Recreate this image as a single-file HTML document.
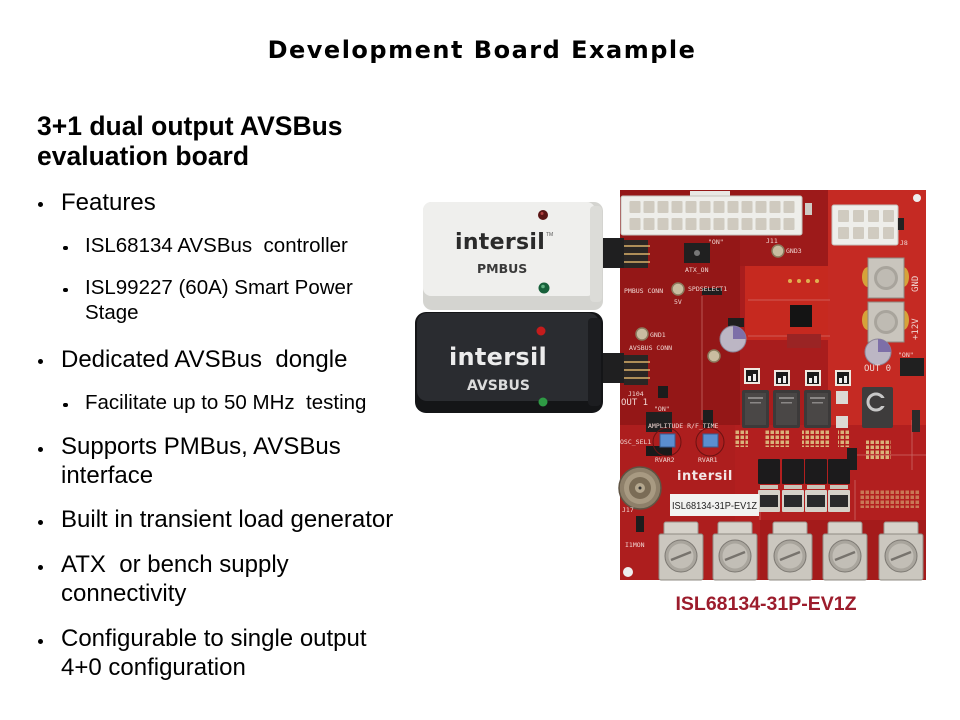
<!DOCTYPE html>
<html><head><meta charset="utf-8">
<style>
html,body{margin:0;padding:0;background:#fff;}
body{width:960px;height:720px;position:relative;overflow:hidden;font-family:"Liberation Sans",Arial,sans-serif;color:#000;}
.t{position:absolute;white-space:pre;line-height:1;}
.l1{font-size:24px;left:61px;}
.l2{font-size:20.5px;left:85px;}
.b1{position:absolute;left:38px;width:5px;height:5px;border-radius:50%;background:#000;}
.b2{position:absolute;left:63px;width:4.5px;height:4.5px;border-radius:50%;background:#000;}
svg{position:absolute;left:0;top:0;}
</style></head><body>

<svg width="960" height="720" viewBox="0 0 960 720">
<defs>
  <pattern id="atx" patternUnits="userSpaceOnUse" x="628" y="199" width="14" height="17">
    <rect x="1.5" y="2" width="11" height="12" rx="1" fill="#cfcabf"/>
  </pattern>
  <pattern id="p8" patternUnits="userSpaceOnUse" x="836" y="208" width="15" height="17">
    <rect x="2" y="2" width="11" height="12" rx="1" fill="#d0cbc0"/>
  </pattern>
  <pattern id="caps" patternUnits="userSpaceOnUse" x="0" y="0" width="5" height="5">
    <rect x="0.5" y="0.5" width="3.5" height="3.5" fill="#d9b27a"/>
  </pattern>
  <g id="term">
    <rect x="5" y="0" width="34" height="16" rx="2" fill="#d6d2ca" stroke="#9a968e" stroke-width="1"/>
    <rect x="0" y="12" width="44" height="46" rx="2" fill="#cbc7bf" stroke="#8f8b83" stroke-width="1"/>
    <circle cx="22" cy="34" r="16" fill="#a9a59d" stroke="#7d7973" stroke-width="1"/>
    <circle cx="22" cy="34" r="12.5" fill="#c2beb6"/>
    <line x1="12" y1="38" x2="32" y2="30" stroke="#77736d" stroke-width="2.5"/>
  </g>
  <g id="ind">
    <rect x="0" y="0" width="27" height="38" rx="2" fill="#3c3a3a"/>
    <rect x="3" y="3" width="21" height="32" fill="#4a4746"/>
    <rect x="6" y="7" width="15" height="2" fill="#8a8786"/>
    <rect x="8" y="12" width="11" height="1.5" fill="#8a8786"/>
  </g>
  <g id="ps">
    <rect x="0" y="0" width="22" height="25" rx="1" fill="#1c1b1c"/>
    <rect x="2" y="26" width="18" height="4" fill="#c9c4b8"/>
  </g>
  <g id="rs">
    <rect x="0" y="0" width="22" height="22" rx="1" fill="#d5d1c9"/>
    <rect x="2" y="5" width="18" height="12" fill="#2a2a2c"/>
  </g>
  <g id="sw">
    <rect x="0" y="0" width="16" height="16" fill="#efe8e0"/>
    <rect x="2" y="2" width="12" height="12" fill="#1b1b1b"/>
    <rect x="4" y="8" width="3" height="5" fill="#eee"/>
    <rect x="9" y="6" width="3" height="7" fill="#eee"/>
  </g>
</defs>

<!-- PCB -->
<rect x="620" y="190" width="306" height="390" fill="#a81d1d"/>
<rect x="620" y="190" width="120" height="235" fill="#941717"/>
<rect x="740" y="190" width="88" height="76" fill="#9d1a1a"/>
<rect x="828" y="190" width="98" height="268" fill="#c52a23"/>
<rect x="745" y="266" width="83" height="74" fill="#c6291f"/>
<rect x="735" y="425" width="191" height="155" fill="#b21f1f"/>
<rect x="620" y="425" width="115" height="155" fill="#ad1e1e"/>
<rect x="760" y="520" width="166" height="60" fill="#a41b1b"/>
<!-- silkscreen lines -->
<g stroke="#d88a84" stroke-width="0.8" fill="none" opacity="0.7">
  <line x1="702" y1="296" x2="702" y2="420"/>
  <path d="M748 300 H830"/>
  <path d="M748 336 H830"/>
  <path d="M912 420 V470"/>
  <path d="M855 455 H926"/>
  <path d="M725 508 H760 V520"/>
  <path d="M855 480 V520"/>
</g>
<circle cx="917" cy="198" r="4" fill="#eee"/>
<circle cx="628" cy="572" r="5" fill="#eee"/>

<!-- ATX connector -->
<rect x="690" y="191" width="40" height="8" fill="#e8e8e4"/>
<rect x="621" y="196" width="181" height="39" rx="2" fill="#eeeeea" stroke="#c4c2bc"/>
<rect x="628" y="199" width="168" height="34" fill="url(#atx)"/>
<rect x="805" y="203" width="7" height="12" fill="#cfcbc5"/>
<!-- 8 pin -->
<rect x="832" y="205" width="66" height="40" rx="2" fill="#eeeeea" stroke="#c4c2bc"/>
<rect x="836" y="208" width="60" height="34" fill="url(#p8)"/>
<rect x="898" y="218" width="6" height="12" fill="#222"/>

<!-- big screw posts -->
<g>
  <ellipse cx="868" cy="277" rx="6" ry="10" fill="#d6a23a"/>
  <ellipse cx="903" cy="277" rx="6" ry="10" fill="#d6a23a"/>
  <rect x="868" y="258" width="36" height="40" fill="#c9c5bd" stroke="#8f8b83"/>
  <circle cx="886" cy="278" r="12" fill="#a8a49c"/>
  <circle cx="886" cy="278" r="9" fill="#bfbbb3"/>
  <ellipse cx="868" cy="320" rx="6" ry="10" fill="#d6a23a"/>
  <ellipse cx="903" cy="320" rx="6" ry="10" fill="#d6a23a"/>
  <rect x="868" y="302" width="36" height="40" fill="#c9c5bd" stroke="#8f8b83"/>
  <circle cx="886" cy="322" r="12" fill="#a8a49c"/>
  <circle cx="886" cy="322" r="9" fill="#bfbbb3"/>
</g>

<!-- switches -->
<rect x="684" y="243" width="26" height="20" fill="#202020"/>
<circle cx="697" cy="253" r="3" fill="#777"/>
<rect x="900" y="358" width="24" height="18" fill="#202020"/>
<rect x="646" y="412" width="26" height="20" fill="#202020"/>
<rect x="646" y="446" width="26" height="10" fill="#1a1a1a"/>
<rect x="658" y="386" width="10" height="12" fill="#1c1c1c"/>
<rect x="636" y="516" width="8" height="16" fill="#1c1c1c"/>

<!-- pin headers -->
<rect x="624" y="240" width="24" height="28" fill="#2a2624"/>
<g stroke="#d9b06a" stroke-width="1.5"><line x1="624" y1="246" x2="650" y2="246"/><line x1="624" y1="254" x2="650" y2="254"/><line x1="624" y1="262" x2="650" y2="262"/></g>
<rect x="624" y="355" width="24" height="30" fill="#2a2624"/>
<g stroke="#d9b06a" stroke-width="1.5"><line x1="624" y1="362" x2="650" y2="362"/><line x1="624" y1="370" x2="650" y2="370"/><line x1="624" y1="378" x2="650" y2="378"/></g>
<rect x="702" y="288" width="20" height="7" fill="#1e1e1e"/>
<rect x="728" y="318" width="16" height="9" fill="#1e1e1e"/>
<rect x="703" y="410" width="10" height="18" fill="#1e1e1e"/>
<rect x="847" y="448" width="10" height="22" fill="#1e1e1e"/>
<rect x="912" y="410" width="8" height="22" fill="#2b2a2a"/>

<!-- test points -->
<g fill="#c9bda1" stroke="#8b7c5f" stroke-width="1.5">
  <circle cx="778" cy="251" r="6"/>
  <circle cx="678" cy="289" r="6"/>
  <circle cx="642" cy="334" r="6"/>
  <circle cx="714" cy="356" r="6"/>
</g>
<g fill="#e0b050">
  <circle cx="790" cy="281" r="2"/><circle cx="799" cy="281" r="2"/><circle cx="808" cy="281" r="2"/><circle cx="817" cy="281" r="2"/>
</g>

<!-- capacitors -->
<circle cx="733" cy="339" r="13" fill="#bcb6c4" stroke="#8d8799"/>
<path d="M733 326 A13 13 0 0 1 746 339 L733 339Z" fill="#7d6fa8"/>
<circle cx="878" cy="352" r="13" fill="#bcb6c4" stroke="#8d8799"/>
<path d="M878 339 A13 13 0 0 1 891 352 L878 352Z" fill="#7d6fa8"/>

<!-- U3 -->
<rect x="790" y="305" width="22" height="22" fill="#141414"/>
<rect x="787" y="334" width="34" height="14" fill="#9a2424"/>

<!-- switch row -->
<use href="#sw" x="744" y="368"/>
<use href="#sw" x="774" y="370"/>
<use href="#sw" x="805" y="370"/>
<use href="#sw" x="835" y="370"/>

<!-- inductors -->
<use href="#ind" x="742" y="390"/>
<use href="#ind" x="773" y="390"/>
<use href="#ind" x="804" y="390"/>
<rect x="836" y="391" width="12" height="13" fill="#dcd9d4"/>
<rect x="836" y="416" width="12" height="12" fill="#dcd9d4"/>
<rect x="862" y="387" width="31" height="41" rx="2" fill="#3e3c3c"/>
<circle cx="876" cy="402" r="8" fill="none" stroke="#c8c8c8" stroke-width="3"/>
<rect x="876" y="398" width="10" height="8" fill="#3e3c3c"/>

<!-- cap arrays -->
<rect x="735" y="430" width="13" height="17" fill="url(#caps)"/>
<rect x="765" y="430" width="25" height="17" fill="url(#caps)"/>
<rect x="802" y="430" width="28" height="17" fill="url(#caps)"/>
<rect x="838" y="430" width="12" height="17" fill="url(#caps)"/>
<rect x="866" y="440" width="25" height="20" fill="url(#caps)"/>

<!-- pots -->
<circle cx="667" cy="442" r="14" fill="none" stroke="#6b1212" stroke-width="1"/>
<rect x="660" y="434" width="15" height="13" fill="#5b8fd0" stroke="#3a5c90"/>
<circle cx="710" cy="442" r="14" fill="none" stroke="#6b1212" stroke-width="1"/>
<rect x="703" y="434" width="15" height="13" fill="#5b8fd0" stroke="#3a5c90"/>

<!-- BNC -->
<circle cx="640" cy="488" r="21" fill="#8e806a" stroke="#5f5444" stroke-width="1.5"/>
<circle cx="640" cy="488" r="16" fill="#a89a82"/>
<circle cx="640" cy="488" r="11" fill="#7a6c56"/>
<circle cx="640" cy="488" r="5" fill="#b4a78e"/>
<circle cx="640" cy="488" r="1.5" fill="#333"/>

<!-- power stages -->
<use href="#ps" x="758" y="459"/>
<use href="#ps" x="782" y="459"/>
<use href="#ps" x="805" y="459"/>
<use href="#ps" x="828" y="459"/>
<use href="#rs" x="758" y="490"/>
<use href="#rs" x="782" y="490"/>
<use href="#rs" x="805" y="490"/>
<use href="#rs" x="828" y="490"/>
<rect x="860" y="490" width="60" height="18" fill="url(#caps)" opacity="0.6"/>

<!-- board logo and sticker -->
<text x="677" y="480" font-family="DejaVu Sans, sans-serif" font-weight="bold" font-size="13" fill="#f2e6e6" letter-spacing="0.5">intersil</text>
<rect x="670" y="494" width="89" height="22" fill="#f2f2f0"/>
<text x="672" y="509" font-family="Liberation Sans, sans-serif" font-size="10" fill="#222" textLength="85" lengthAdjust="spacingAndGlyphs">ISL68134-31P-EV1Z</text>

<!-- terminal blocks -->
<use href="#term" x="659" y="522"/>
<use href="#term" x="713" y="522"/>
<use href="#term" x="768" y="522"/>
<use href="#term" x="823" y="522"/>
<use href="#term" x="879" y="522"/>

<!-- silkscreen labels -->
<g font-family="DejaVu Sans Mono, monospace" font-size="6.5" fill="#f0d6d2">
  <text x="766" y="243">J11</text>
  <text x="786" y="253">GND3</text>
  <text x="708" y="244">"ON"</text>
  <text x="685" y="272">ATX_ON</text>
  <text x="624" y="293">PMBUS CONN</text>
  <text x="674" y="304">5V</text>
  <text x="688" y="291">SPDSELECT1</text>
  <text x="650" y="337">GND1</text>
  <text x="629" y="350">AVSBUS CONN</text>
  <text x="628" y="396">J104</text>
  <text x="621" y="405" font-size="9">OUT 1</text>
  <text x="654" y="411">"ON"</text>
  <text x="648" y="428">AMPLITUDE R/F_TIME</text>
  <text x="620" y="444">OSC_SEL1</text>
  <text x="655" y="462">RVAR2</text>
  <text x="698" y="462">RVAR1</text>
  <text x="622" y="512">J17</text>
  <text x="625" y="547">I1MON</text>
  <text x="864" y="371" font-size="9">OUT 0</text>
  <text x="898" y="357">"ON"</text>
  <text x="900" y="245">J8</text>
  <text transform="translate(918,292) rotate(-90)" font-size="9">GND</text>
  <text transform="translate(918,340) rotate(-90)" font-size="9">+12V</text>
</g>

<!-- dongle cables -->
<rect x="596" y="238" width="28" height="30" fill="#1f1f20"/>
<rect x="596" y="353" width="28" height="30" fill="#1f1f20"/>

<!-- White PMBUS dongle -->
<rect x="423" y="202" width="180" height="108" rx="9" fill="#d4d4d0"/>
<rect x="423" y="202" width="172" height="94" rx="8" fill="#efefed"/>
<rect x="590" y="206" width="12" height="96" rx="4" fill="#dcdcd8"/>
<text x="455" y="249" font-family="DejaVu Sans, sans-serif" font-weight="bold" font-size="22" fill="#2b2b2b" letter-spacing="0.3">intersil</text>
<text x="546" y="236" font-family="Liberation Sans, sans-serif" font-size="5" fill="#555">TM</text>
<text x="477" y="273" font-family="DejaVu Sans, sans-serif" font-weight="bold" font-size="12.5" fill="#3a3a3a">PMBUS</text>
<circle cx="543" cy="215" r="5" fill="#5a1414"/>
<circle cx="542" cy="213.5" r="1.5" fill="#b04040"/>
<circle cx="544" cy="288" r="5.5" fill="#17603a"/>
<circle cx="543" cy="286.5" r="1.8" fill="#5fb080"/>

<!-- Black AVSBUS dongle -->
<rect x="415" y="312" width="188" height="101" rx="11" fill="#141517"/>
<rect x="417" y="313" width="182" height="88" rx="10" fill="#2a2c30"/>
<rect x="588" y="318" width="13" height="88" rx="4" fill="#1c1d20"/>
<text x="449" y="365" font-family="DejaVu Sans, sans-serif" font-weight="bold" font-size="24" fill="#ececec" letter-spacing="0.3">intersil</text>
<text x="467" y="390" font-family="DejaVu Sans, sans-serif" font-weight="bold" font-size="14" fill="#dcdcdc">AVSBUS</text>
<circle cx="541" cy="331" r="4.5" fill="#c41c1c"/>
<circle cx="543" cy="402" r="4.5" fill="#2e9a44"/>
</svg>

<div class="t" style="left:0;width:960px;text-align:center;top:38px;font-family:'DejaVu Sans',Verdana,sans-serif;font-weight:bold;font-size:24px;letter-spacing:1.5px;"><span style="position:relative;left:2px">Development Board Example</span></div>

<div class="t" style="left:37px;top:113px;font-size:26.5px;font-weight:bold;">3+1 dual output AVSBus</div>
<div class="t" style="left:37px;top:142.6px;font-size:26.5px;font-weight:bold;">evaluation board</div>

<div class="b1" style="top:202px"></div>
<div class="t l1" style="top:191.2px">Features</div>

<div class="b2" style="top:245.5px"></div>
<div class="t l2" style="top:235.7px">ISL68134 AVSBus  controller</div>
<div class="b2" style="top:287.5px"></div>
<div class="t l2" style="top:277.7px">ISL99227 (60A) Smart Power</div>
<div class="t l2" style="top:302.7px">Stage</div>

<div class="b1" style="top:359px"></div>
<div class="t l1" style="top:347.7px">Dedicated AVSBus  dongle</div>

<div class="b2" style="top:402.5px"></div>
<div class="t l2" style="top:392.7px">Facilitate up to 50 MHz  testing</div>

<div class="b1" style="top:446.5px"></div>
<div class="t l1" style="top:434.7px">Supports PMBus, AVSBus</div>
<div class="t l1" style="top:463.7px">interface</div>

<div class="b1" style="top:519.5px"></div>
<div class="t l1" style="top:507.7px">Built in transient load generator</div>

<div class="b1" style="top:564.5px"></div>
<div class="t l1" style="top:552.7px">ATX  or bench supply</div>
<div class="t l1" style="top:581.7px">connectivity</div>

<div class="b1" style="top:638.5px"></div>
<div class="t l1" style="top:626.7px">Configurable to single output</div>
<div class="t l1" style="top:655.7px">4+0 configuration</div>

<div class="t" style="left:666px;width:200px;text-align:center;top:595px;font-size:19.5px;font-weight:bold;color:#9c1c2c;">ISL68134-31P-EV1Z</div>

</body></html>
